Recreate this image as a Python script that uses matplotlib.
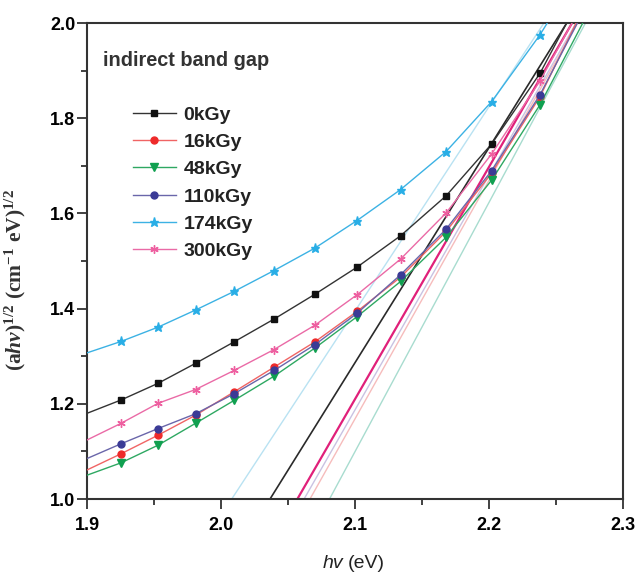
import matplotlib
matplotlib.use("Agg")
import matplotlib.pyplot as plt

plt.rcParams['font.family'] = ['Liberation Sans', 'DejaVu Sans']
plt.rcParams['mathtext.fontset'] = 'custom'
plt.rcParams['mathtext.rm'] = 'Liberation Serif:bold'
plt.rcParams['mathtext.it'] = 'Liberation Serif:italic:bold'
plt.rcParams['mathtext.bf'] = 'Liberation Serif:bold'

# ---- data ----
labels = ['0kGy', '16kGy', '48kGy', '110kGy', '174kGy', '300kGy']
hv = [1.9254, 1.953, 1.981, 2.0097, 2.0396, 2.070, 2.1015, 2.134, 2.168, 2.202, 2.238]
start_y = [1.180, 1.061, 1.050, 1.085, 1.307, 1.124]   # value at hv = 1.9
end_x = [2.258, 2.265, 2.270, 2.266, 2.2435, 2.262]     # hv where curve reaches 2.0
y_0 = [1.208, 1.243, 1.285, 1.330, 1.378, 1.430, 1.487, 1.553, 1.637, 1.746, 1.894]
y_16 = [1.095, 1.134, 1.176, 1.225, 1.277, 1.330, 1.394, 1.466, 1.562, 1.685, 1.845]
y_48 = [1.076, 1.113, 1.159, 1.207, 1.258, 1.317, 1.383, 1.457, 1.550, 1.670, 1.828]
y_110 = [1.116, 1.148, 1.179, 1.221, 1.270, 1.324, 1.390, 1.471, 1.567, 1.690, 1.849]
y_174 = [1.331, 1.361, 1.397, 1.436, 1.480, 1.527, 1.585, 1.650, 1.730, 1.835, 1.975]
y_300 = [1.159, 1.201, 1.230, 1.270, 1.314, 1.365, 1.429, 1.504, 1.601, 1.725, 1.878]
series = [y_0, y_16, y_48, y_110, y_174, y_300]

# linear fits: hv at (alpha h v)^1/2 = 1.0 and = 2.0
fit_x_lo = [2.0366, 2.0664, 2.081, 2.062, 2.008, 2.057]
fit_x_hi = [2.258, 2.266, 2.272, 2.265, 2.241, 2.262]

# ---- styles ----
line_colors = ['#333333', '#f06464', '#2ea862', '#6a66aa', '#3cb2e4', '#ea6aa6']
marker_colors = ['#111111', '#ee2a2a', '#10a050', '#3b3b96', '#29aee6', '#ee5fa0']
markers = ['s', 'o', 'v', 'o', '*', (6, 2, 0)]
msizes = [4.5, 5, 5.5, 5, 6.5, 6]
fit_colors = ['#2a2a2a', '#f6bcbc', '#a8dccf', '#c9c2e2', '#b9e2f2', '#e0207a']
fit_widths = [1.2, 1.0, 1.0, 1.0, 1.0, 1.6]

fig = plt.figure(figsize=(6.39, 5.75), dpi=100)
ax = fig.add_axes([87/639, 1 - 499/575, 536/639, 476/575])

# fit lines (behind)
for i in [4, 2, 1, 3, 0, 5]:
    ax.plot([fit_x_lo[i], fit_x_hi[i]], [1.0, 2.0], color=fit_colors[i],
            lw=fit_widths[i], zorder=1)

handles = []
for i, lab in enumerate(labels):
    xs = [1.9] + hv + [end_x[i]]
    ys = [start_y[i]] + series[i] + [2.0]
    ln, = ax.plot(xs, ys, color=line_colors[i], lw=1.0, marker=markers[i],
                  markersize=msizes[i], markerfacecolor=marker_colors[i],
                  markeredgecolor=marker_colors[i], markeredgewidth=1.0,
                  markevery=list(range(1, len(xs) - 1)), label=lab, zorder=3)
    handles.append(ln)

ax.set_xlim(1.9, 2.3)
ax.set_ylim(1.0, 2.0)
ax.set_xticks([1.9, 2.0, 2.1, 2.2, 2.3])
ax.set_xticks([1.95, 2.05, 2.15, 2.25], minor=True)
ax.set_yticks([1.0, 1.2, 1.4, 1.6, 1.8, 2.0])
ax.set_yticks([1.1, 1.3, 1.5, 1.7, 1.9], minor=True)
ax.set_xticklabels(['1.9', '2.0', '2.1', '2.2', '2.3'])
ax.set_yticklabels(['1.0', '1.2', '1.4', '1.6', '1.8', '2.0'])
for t in ax.get_xticklabels() + ax.get_yticklabels():
    t.set_fontweight('bold')
    t.set_fontsize(13)
ax.tick_params(axis='both', which='major', direction='out', length=7, width=1.3,
               color='#333333')
ax.tick_params(axis='both', which='minor', direction='out', length=4.5, width=1.3,
               color='#333333')
ax.tick_params(axis='x', which='major', pad=6)
ax.tick_params(axis='y', which='major', pad=1.5)
for s in ax.spines.values():
    s.set_linewidth(1.5)
    s.set_color('#333333')

ax.set_ylabel(r'$\mathrm{(a}\mathit{hv}\mathrm{)^{1/2}\ (cm^{-1}\ eV)^{1/2}}$',
              fontsize=15.5, color='#333333')
ax.yaxis.set_label_coords((28 - 87) / 536, (499 - 280) / 476)

fig.text(343 / 639, 1 - 563 / 575, 'hv', fontsize=14, style='italic',
         ha='right', va='center', color='#222222')
fig.text(348 / 639, 1 - 563 / 575, '(eV)', fontsize=14,
         ha='left', va='center', color='#222222')

ax.text((103 - 87) / 536, (499 - 60) / 476, 'indirect band gap', transform=ax.transAxes,
        fontsize=14.3, fontweight='bold', ha='left', va='center', color='#333333')

leg = ax.legend(handles=handles, loc='upper left',
                bbox_to_anchor=((133 - 87) / 536, (499 - 106) / 476),
                frameon=False, borderpad=0, borderaxespad=0, handlelength=2.2,
                handletextpad=0.4, labelspacing=0.5, numpoints=1,
                prop={'weight': 'bold', 'size': 14})
for t in leg.get_texts():
    t.set_color('#222222')

fig.savefig('out.png', dpi=100)
